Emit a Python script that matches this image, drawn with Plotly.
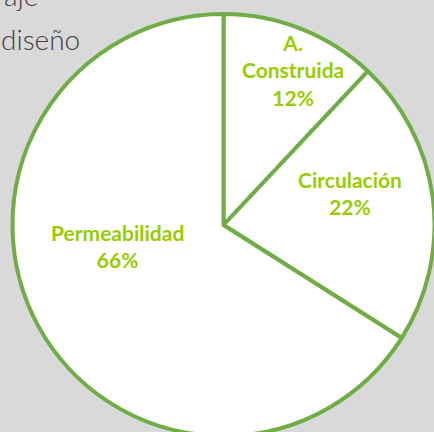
import math
import plotly.graph_objects as go

# Land-use shares of the plot
categories = ["A.<br>Construida", "Circulación", "Permeabilidad"]
shares = [12, 22, 66]

# Label placement inside each slice: (fraction of radius, angular nudge in degrees)
label_place = [(0.805, 2.5), (0.618, -6.8), (0.51, 17.5)]

# Canvas is a bit larger than the viewport so the pie bleeds off the bottom/right
W, H = 448, 450
cx, cy, r = 223.5, 225.0, 211.0

fig = go.Figure(
    go.Pie(
        labels=categories,
        values=shares,
        sort=False,
        direction="clockwise",
        rotation=0,
        hole=0,
        marker=dict(colors=["#ffffff"] * len(shares), line=dict(color="#70ad47", width=4)),
        textinfo="none",
        hoverinfo="skip",
        showlegend=False,
        domain=dict(
            x=[(cx - r) / W, (cx + r) / W],
            y=[1 - (cy + r) / H, 1 - (cy - r) / H],
        ),
    )
)

# Slice labels, placed around each slice's mid-angle (clockwise from 12 o'clock)
total = sum(shares)
start = 0.0
for name, val, (frac, nudge) in zip(categories, shares, label_place):
    sweep = 360.0 * val / total
    theta = math.radians(start + sweep / 2 + nudge)
    start += sweep
    px = cx + frac * r * math.sin(theta)
    py = cy - frac * r * math.cos(theta)
    fig.add_annotation(
        text=f"<b>{name}<br>{round(100 * val / total)}%</b>",
        xref="paper", yref="paper", x=px / W, y=1 - py / H,
        xanchor="center", yanchor="middle", align="center", showarrow=False,
        font=dict(family="Lato", size=21, color="#99cc00"),
    )

title_font = dict(family="Lato", size=28, color="#404040", weight=300)
fig.add_annotation(
    text="aje", xref="paper", yref="paper", x=40 / W, y=1 + 5 / H,
    xanchor="right", yanchor="middle", showarrow=False, font=title_font,
)
fig.add_annotation(
    text="diseño", xref="paper", yref="paper", x=-1 / W, y=1 - 39 / H,
    xanchor="left", yanchor="middle", showarrow=False, font=title_font,
)

fig.update_layout(
    width=W,
    height=H,
    margin=dict(l=0, r=0, t=0, b=0),
    paper_bgcolor="#d9d9d9",
    plot_bgcolor="#d9d9d9",
)

fig.write_html(
    "out.html",
    post_script="document.documentElement.style.overflow='hidden';document.body.style.overflow='hidden';",
)
